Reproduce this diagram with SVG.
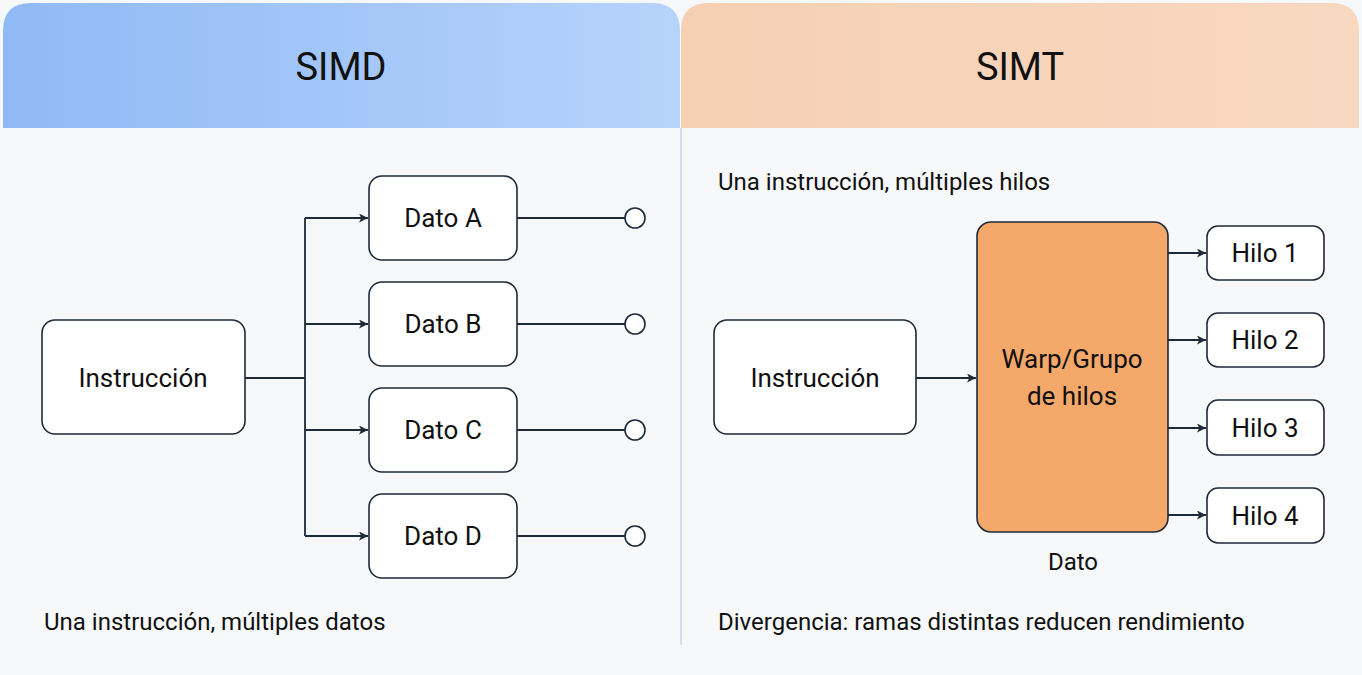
<svg xmlns="http://www.w3.org/2000/svg" width="1362" height="675" viewBox="0 0 1362 675">
<defs>
<linearGradient id="gb" x1="0" x2="1" y1="0" y2="0"><stop offset="0" stop-color="#90BAF5"/><stop offset="1" stop-color="#B6D3FB"/></linearGradient>
<linearGradient id="go" x1="0" x2="1"><stop offset="0" stop-color="#F6D0B3"/><stop offset="1" stop-color="#F8D8C0"/></linearGradient>
<marker id="ar" viewBox="0 0 10 10" refX="10" refY="5" markerWidth="9" markerHeight="9" markerUnits="userSpaceOnUse" orient="auto"><path d="M0,0 L10,5 L0,10 L2.5,5 z" fill="#1E2A3A"/></marker>
<style>
text{font-family:Roboto,"Liberation Sans",sans-serif;fill:#111}
.b{fill:#fff;stroke:#1E2A3A;stroke-width:1.6}
.c{fill:none;stroke:#1E2A3A;stroke-width:1.8}
.t{font-size:26px;text-anchor:middle}
.s{font-size:24px}
</style>
</defs>
<rect width="1362" height="675" fill="#F6F8FA"/>
<g id="hdr">
<path d="M3,128 V31 Q3,3 31,3 H652 Q680,3 680,31 V128 Z" fill="url(#gb)"/>
<path d="M681,128 V31 Q681,3 709,3 H1331 Q1359,3 1359,31 V128 Z" fill="url(#go)"/>
<text x="341" y="80" font-size="38" text-anchor="middle">SIMD</text>
<text x="1020" y="80" font-size="38" text-anchor="middle">SIMT</text>
<line x1="681" y1="128" x2="681" y2="645" stroke="#C9D8EC" stroke-width="1.5"/>
</g>
<g id="connectors" class="c">
<path d="M245,378 H305 M305,218 V536"/>
<path d="M305,218 H368" marker-end="url(#ar)"/>
<path d="M305,324 H368" marker-end="url(#ar)"/>
<path d="M305,430 H368" marker-end="url(#ar)"/>
<path d="M305,536 H368" marker-end="url(#ar)"/>
<path d="M517,218 H625 M517,324 H625 M517,430 H625 M517,536 H625"/>
<path d="M916,378 H976" marker-end="url(#ar)"/>
<path d="M1168,253 H1206" marker-end="url(#ar)"/>
<path d="M1168,340 H1206" marker-end="url(#ar)"/>
<path d="M1168,428 H1206" marker-end="url(#ar)"/>
<path d="M1168,515 H1206" marker-end="url(#ar)"/>
</g>
<g fill="#fff" stroke="#1E2A3A" stroke-width="1.6">
<circle cx="635" cy="218" r="10"/><circle cx="635" cy="324" r="10"/><circle cx="635" cy="430" r="10"/><circle cx="635" cy="536" r="10"/>
</g>
<g id="instr1"><rect class="b" x="42" y="320" width="203" height="114" rx="13"/><text class="t" x="143" y="387">Instrucción</text></g>
<g id="datoA"><rect class="b" x="369" y="176" width="148" height="84" rx="13"/><text class="t" x="443" y="227">Dato A</text></g>
<g id="datoB"><rect class="b" x="369" y="282" width="148" height="84" rx="13"/><text class="t" x="443" y="333">Dato B</text></g>
<g id="datoC"><rect class="b" x="369" y="388" width="148" height="84" rx="13"/><text class="t" x="443" y="439">Dato C</text></g>
<g id="datoD"><rect class="b" x="369" y="494" width="148" height="84" rx="13"/><text class="t" x="443" y="545">Dato D</text></g>
<text class="s" x="44" y="630">Una instrucción, múltiples datos</text>
<text class="s" x="718" y="190">Una instrucción, múltiples hilos</text>
<g id="instr2"><rect class="b" x="714" y="320" width="202" height="114" rx="13"/><text class="t" x="815" y="387">Instrucción</text></g>
<g id="warp"><rect x="977" y="222" width="191" height="310" rx="14" fill="#F4A86A" stroke="#1E2A3A" stroke-width="1.6"/><text class="t" x="1072" y="368">Warp/Grupo</text><text class="t" x="1072" y="405">de hilos</text></g>
<g id="hilo1"><rect class="b" x="1207" y="226" width="117" height="54" rx="11"/><text class="t" x="1265" y="262">Hilo 1</text></g>
<g id="hilo2"><rect class="b" x="1207" y="313" width="117" height="54" rx="11"/><text class="t" x="1265" y="349">Hilo 2</text></g>
<g id="hilo3"><rect class="b" x="1207" y="400" width="117" height="55" rx="11"/><text class="t" x="1265" y="437">Hilo 3</text></g>
<g id="hilo4"><rect class="b" x="1207" y="488" width="117" height="55" rx="11"/><text class="t" x="1265" y="525">Hilo 4</text></g>
<text class="s" x="1073" y="570" text-anchor="middle">Dato</text>
<text class="s" x="718" y="630">Divergencia: ramas distintas reducen rendimiento</text>
</svg>
